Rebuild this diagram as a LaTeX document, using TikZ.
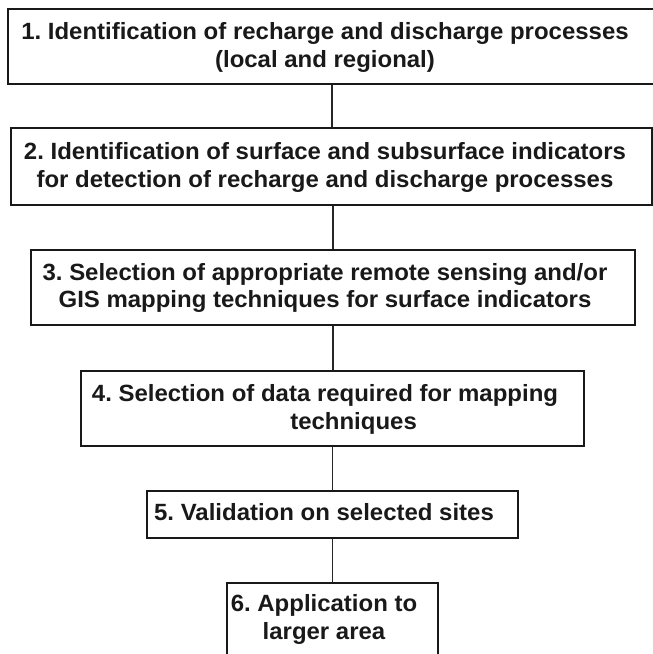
\documentclass[tikz,border=0pt]{standalone}
\usepackage{fontspec}
\usepackage{graphicx}
\setmainfont{Liberation Sans}
\newcommand{\boxtext}[1]{\scalebox{1.02}[1]{\begin{tabular}{@{}c@{}}#1\end{tabular}}}
\begin{document}
\begin{tikzpicture}[x=1pt,y=-1pt,
  box/.style={draw=black!90, line width=1.8pt, inner sep=0pt, fill=white},
  txt/.style={font=\bfseries\fontsize{23.5}{27.5}\selectfont\frenchspacing, text=black!90, inner sep=0pt},
  link/.style={draw=black!85, line width=1.4pt}]
\useasboundingbox (0,0) rectangle (653,654);
% boxes
\node[box, minimum width=648pt, minimum height=75pt] (b1) at (332,46.8) {};
\node[box, minimum width=641pt, minimum height=77pt] (b2) at (331.5,166.5) {};
\node[box, minimum width=604pt, minimum height=75pt] (b3) at (333,287.5) {};
\node[box, minimum width=503pt, minimum height=75pt] (b4) at (332.5,408.5) {};
\node[box, minimum width=371pt, minimum height=47pt] (b5) at (332.5,514.5) {};
\node[box, minimum width=211pt, minimum height=74pt] (b6) at (332.5,620) {};
% texts
\node[txt] (t1) at (325,48) {\boxtext{1. Identification of recharge and discharge processes\\(local and regional)}};
\node[txt] (t2) at (325,168) {\boxtext{2. Identification of surface and subsurface indicators\\for detection of recharge and discharge processes}};
\node[txt] (t3) at (325,288.5) {\boxtext{3. Selection of appropriate remote sensing and/or\\GIS mapping techniques for surface indicators}};
\node[txt] (t4) at (325,410) {\boxtext{4. Selection of data required for mapping\\\hspace*{56pt}techniques}};
\node[txt] (t5) at (324,515) {\boxtext{5. Validation on selected sites}};
\node[txt] (t6) at (324,620) {\boxtext{6. Application to\\larger area}};
% connectors
\draw[link] (b1.south) -- (b1.south |- b2.north);
\draw[link] (b2.south -| b3.north) -- (b3.north);
\draw[link] (b3.south) -- (b3.south |- b4.north);
\draw[link] (b4.south) -- (b5.north);
\draw[link] (b5.south) -- (b6.north);
\end{tikzpicture}
\end{document}
